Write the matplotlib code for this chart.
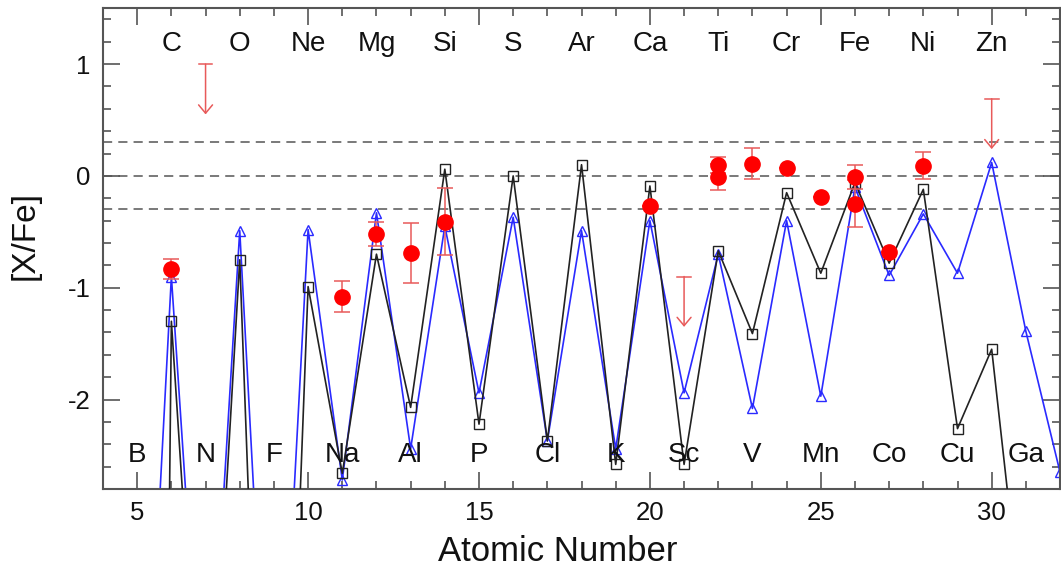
import matplotlib
matplotlib.use("Agg")
import matplotlib.pyplot as plt
from matplotlib.ticker import MultipleLocator

plt.rcParams['font.family'] = ['Liberation Sans', 'DejaVu Sans']
plt.rcParams['axes.unicode_minus'] = False

# ---- data ----
model_black_z = [5, 6, 7, 8, 9, 10, 11, 12, 13, 14, 15, 16, 17, 18, 19, 20,
                 21, 22, 23, 24, 25, 26, 27, 28, 29, 30, 31]
model_black_val = [-30.0, -1.30, -6.0, -0.75, -9.0, -0.99, -2.66, -0.70, -2.07,
                   0.06, -2.22, 0.00, -2.37, 0.10, -2.58, -0.09, -2.58, -0.67,
                   -1.41, -0.15, -0.87, -0.06, -0.78, -0.12, -2.26, -1.55, -4.3]

model_blue_z = [5, 6, 7, 8, 9, 10, 11, 12, 13, 14, 15, 16, 17, 18, 19, 20,
                21, 22, 23, 24, 25, 26, 27, 28, 29, 30, 31, 32]
model_blue_val = [-6.7, -0.90, -5.5, -0.49, -6.2, -0.48, -2.72, -0.33, -2.44,
                  -0.45, -1.94, -0.37, -2.37, -0.49, -2.44, -0.40, -1.94, -0.70,
                  -2.08, -0.40, -1.97, -0.10, -0.89, -0.34, -0.87, 0.12, -1.39,
                  -2.65]

obs_z = [6, 11, 12, 13, 14, 20, 22, 22, 23, 24, 25, 26, 26, 27, 28]
obs_val = [-0.83, -1.08, -0.52, -0.69, -0.41, -0.27, 0.10, -0.01, 0.11, 0.07,
           -0.19, -0.01, -0.25, -0.68, 0.09]
obs_err = [0.09, 0.14, 0.11, 0.27, 0.30, 0.0, 0.07, 0.12, 0.14, 0.0,
           0.0, 0.11, 0.21, 0.0, 0.12]

ul_z = [7, 21, 30]
ul_val = [1.00, -0.90, 0.69]

ref_lines = [0.3, 0.0, -0.3]

top_labels = ['C', 'O', 'Ne', 'Mg', 'Si', 'S', 'Ar', 'Ca', 'Ti', 'Cr', 'Fe', 'Ni', 'Zn']
top_z = [6, 8, 10, 12, 14, 16, 18, 20, 22, 24, 26, 28, 30]
bottom_labels = ['B', 'N', 'F', 'Na', 'Al', 'P', 'Cl', 'K', 'Sc', 'V', 'Mn', 'Co', 'Cu', 'Ga']
bottom_z = [5, 7, 9, 11, 13, 15, 17, 19, 21, 23, 25, 27, 29, 31]

# ---- figure ----
fig = plt.figure(figsize=(10.61, 5.69), dpi=100)
ax = fig.add_axes([0.0971, 0.1406, 0.902, 0.845])

for y in ref_lines:
    ax.axhline(y, color='#555555', lw=1.1, ls=(0, (6, 4)), zorder=1)

ax.plot(model_black_z, model_black_val, color='#222222', lw=1.2, marker='s',
        ms=6.5, mfc='none', mec='#222222', mew=1.0, zorder=3)
ax.plot(model_blue_z, model_blue_val, color='#2a2aff', lw=1.2, marker='^',
        ms=7.5, mfc='none', mec='#2a2aff', mew=1.0, zorder=2)

ax.errorbar(obs_z, obs_val, yerr=obs_err, fmt='o', color='#ff0000', ms=11,
            ecolor='#e85a5a', elinewidth=1.1, capsize=5.5, capthick=1.1, zorder=5)

arrow_len = 0.45
for z, v in zip(ul_z, ul_val):
    ax.plot([z - 0.2, z + 0.2], [v, v], color='#e85a5a', lw=1.1, zorder=5)
    ax.annotate('', xy=(z, v - arrow_len), xytext=(z, v),
                arrowprops=dict(arrowstyle='->,head_length=0.6,head_width=0.5',
                                color='#e85a5a', lw=1.1, shrinkA=0, shrinkB=0),
                zorder=5)

for lab, z in zip(top_labels, top_z):
    ax.text(z, 1.18, lab, ha='center', va='center', fontsize=20, color='#111111')
for lab, z in zip(bottom_labels, bottom_z):
    ax.text(z, -2.50, lab, ha='center', va='center', fontsize=20, color='#111111')

ax.set_xlim(4, 32)
ax.set_ylim(-2.8, 1.5)
ax.xaxis.set_major_locator(MultipleLocator(5))
ax.xaxis.set_minor_locator(MultipleLocator(1))
ax.yaxis.set_major_locator(MultipleLocator(1))
ax.yaxis.set_minor_locator(MultipleLocator(0.2))
ax.tick_params(which='both', direction='in', top=True, right=True,
               color='#555555', width=1.2, labelsize=18.5, labelcolor='#111111')
ax.tick_params(which='major', length=12, pad=9)
ax.tick_params(which='minor', length=6)
for s in ax.spines.values():
    s.set_color('#555555')
    s.set_linewidth(1.5)

ax.set_xlabel('Atomic Number', fontsize=25, color='#111111', va='center')
ax.xaxis.set_label_coords(0.475, -0.131)
ax.set_ylabel('[X/Fe]', fontsize=24, color='#111111', va='center')
ax.yaxis.set_label_coords(-0.0815, 0.528)

fig.savefig('out.png', dpi=100)
